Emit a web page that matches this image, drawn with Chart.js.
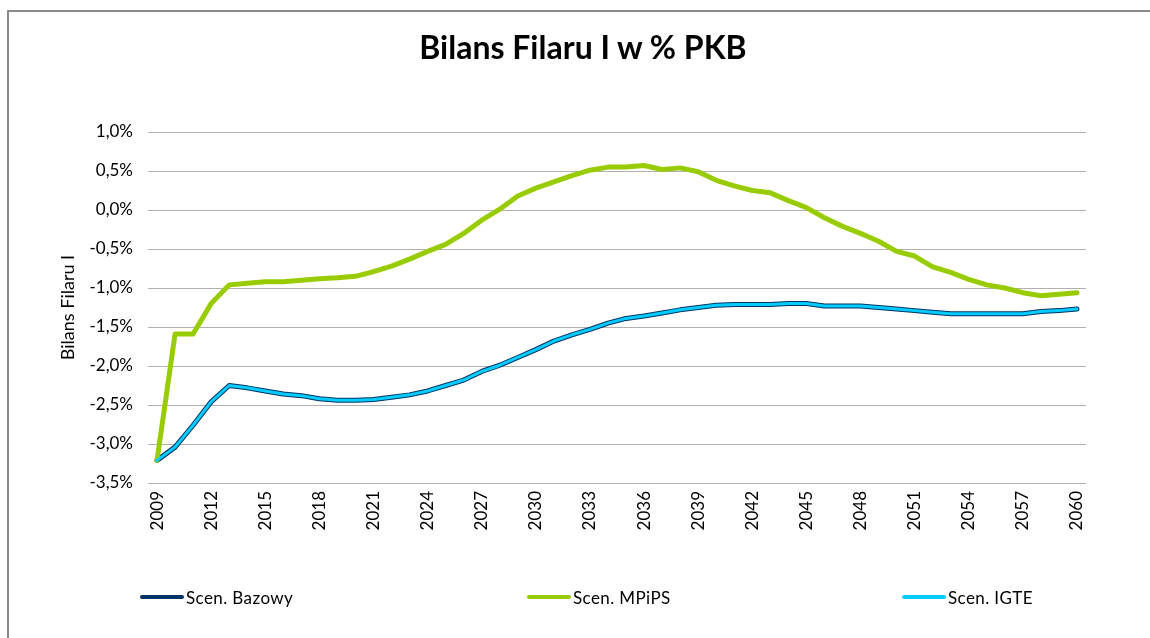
<!DOCTYPE html>
<html>
<head>
<meta charset="utf-8">
<script src="https://cdn.jsdelivr.net/npm/chart.js@4.4.1/dist/chart.umd.min.js"></script>
<style>
    html, body { margin: 0; padding: 0; background: #fff; overflow: hidden; }
    #wrap { position: relative; width: 1150px; height: 638px; }
    #frame {
        position: absolute; left: 7px; top: 10px; width: 1300px; height: 800px;
        border-left: 2px solid #8a8a8a; border-top: 2px solid #8a8a8a;
    }
    #title {
        position: absolute; left: 333px; width: 500px; top: 27px; text-align: center;
        font: bold 32px Lato, "Open Sans", sans-serif; color: #000;
    }
    .leg { position: absolute; top: 586px; height: 22px; display: flex; align-items: center;
           font: 17px Lato, "Open Sans", sans-serif; color: #000; letter-spacing: 0.4px; }
    .leg span.ln { display: inline-block; width: 44px; height: 4px; border-radius: 2px; margin-right: 2px; }
    canvas { position: absolute; left: 0; top: 0; }
</style>
</head>
<body>
<div id="wrap">
    <div id="frame"></div>
    <canvas id="myChart" width="1150" height="638"></canvas>
    <div id="title">Bilans Filaru I w % PKB</div>
    <div id="legend"></div>
</div>
<script>
// years 2009..2060
const years = [];
for (let y = 2009; y <= 2060; y++) years.push(String(y));

const seriesNames = ['Scen. Bazowy', 'Scen. MPiPS', 'Scen. IGTE'];
const seriesColors = ['#003366', '#99cc00', '#00ccff'];

// values in % of GDP
const bazowy = [
    -3.21, -3.04, -2.76, -2.46, -2.25, -2.28, -2.32, -2.36, -2.38, -2.42,
    -2.44, -2.44, -2.43, -2.40, -2.37, -2.32, -2.25, -2.18, -2.07, -1.99,
    -1.89, -1.79, -1.68, -1.60, -1.53, -1.45, -1.39, -1.36, -1.32, -1.28,
    -1.25, -1.22, -1.21, -1.21, -1.21, -1.20, -1.20, -1.23, -1.23, -1.23,
    -1.25, -1.27, -1.29, -1.31, -1.33, -1.33, -1.33, -1.33, -1.33, -1.30,
    -1.29, -1.27
];
const mpips = [
    -3.21, -1.59, -1.59, -1.20, -0.96, -0.94, -0.92, -0.92, -0.90, -0.88,
    -0.87, -0.85, -0.79, -0.72, -0.63, -0.53, -0.44, -0.30, -0.13, 0.01,
    0.18, 0.28, 0.36, 0.44, 0.51, 0.55, 0.55, 0.57, 0.52, 0.54,
    0.49, 0.38, 0.31, 0.25, 0.22, 0.12, 0.03, -0.10, -0.21, -0.30,
    -0.40, -0.53, -0.59, -0.73, -0.80, -0.89, -0.96, -1.00, -1.06, -1.10,
    -1.08, -1.06
];
const igte = [
    -3.21, -3.04, -2.76, -2.46, -2.25, -2.28, -2.32, -2.36, -2.38, -2.42,
    -2.44, -2.44, -2.43, -2.40, -2.37, -2.32, -2.25, -2.18, -2.07, -1.99,
    -1.89, -1.79, -1.68, -1.60, -1.53, -1.45, -1.39, -1.36, -1.32, -1.28,
    -1.25, -1.22, -1.21, -1.21, -1.21, -1.20, -1.20, -1.23, -1.23, -1.23,
    -1.25, -1.27, -1.29, -1.31, -1.33, -1.33, -1.33, -1.33, -1.33, -1.30,
    -1.29, -1.27
];

// legend positions (left edge of each item)
const legendLeft = [140, 527, 902];

const font = 'Lato, "Open Sans", sans-serif';
Chart.defaults.font.family = font;
Chart.defaults.color = '#000';

let datasets = [
    { label: seriesNames[0], data: bazowy, borderColor: seriesColors[0], borderWidth: 5, order: 3 },
    { label: seriesNames[1], data: mpips, borderColor: seriesColors[1], borderWidth: 5, order: 2 },
    { label: seriesNames[2], data: igte, borderColor: seriesColors[2], borderWidth: 3, order: 1 }
];
datasets.forEach(d => {
    d.backgroundColor = d.borderColor;
    d.pointRadius = 0;
    d.tension = 0;
    d.fill = false;
    d.borderJoinStyle = 'round';
    d.borderCapStyle = 'round';
});

let ctx = document.getElementById('myChart').getContext('2d');
let myChart = new Chart(ctx, {
    type: 'line',
    data: { labels: years, datasets: datasets },
    options: {
        responsive: false,
        animation: false,
        layout: { padding: { left: 50, right: 64, top: 132, bottom: 95 } },
        plugins: {
            legend: { display: false },
            title: { display: false },
            tooltip: { enabled: false }
        },
        scales: {
            x: {
                offset: true,
                grid: { display: false, drawTicks: false },
                border: { display: false },
                ticks: {
                    autoSkip: false,
                    minRotation: 90,
                    maxRotation: 90,
                    padding: 8,
                    font: { size: 17 },
                    callback: function(val, i) { return i % 3 === 0 ? years[i] : ''; }
                },
                afterFit: s => { s.height = 60; }
            },
            y: {
                min: -3.5,
                max: 1.0,
                grid: { color: '#b0b0b0', lineWidth: 1, drawTicks: false },
                border: { display: false },
                ticks: {
                    stepSize: 0.5,
                    padding: 15,
                    font: { size: 17 },
                    callback: v => v.toFixed(1).replace('.', ',') + '%'
                },
                title: {
                    display: true,
                    text: 'Bilans Filaru I',
                    font: { size: 18 },
                    padding: { top: 7, bottom: 0 }
                },
                afterFit: s => { s.width = 98; }
            }
        }
    }
});

// legend as html, spread like the original
let html = '';
seriesNames.forEach((name, i) => {
    html += '<div class="leg" style="left:' + legendLeft[i] + 'px">';
    html += '<span class="ln" style="background:' + seriesColors[i] + '"></span>' + name + '</div>';
});
document.getElementById('legend').innerHTML = html;
</script>
</body>
</html>
